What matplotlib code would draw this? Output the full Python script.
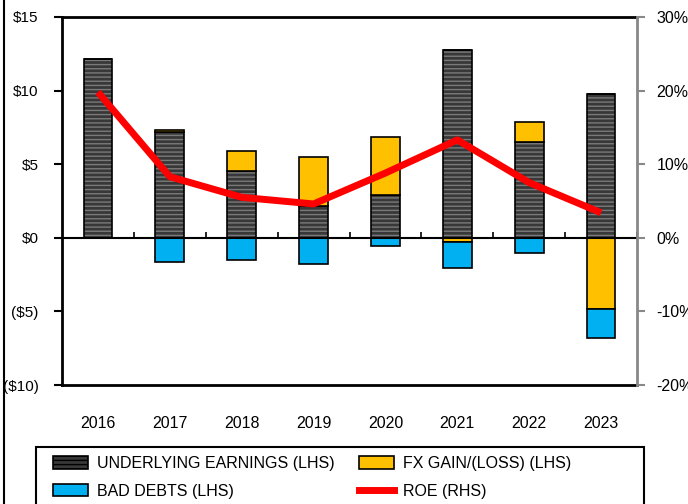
import matplotlib
matplotlib.use("Agg")
import matplotlib.pyplot as plt
from matplotlib.patches import Patch, Rectangle
from matplotlib.lines import Line2D
import numpy as np

years = ["2016", "2017", "2018", "2019", "2020", "2021", "2022", "2023"]
underlying = [12.16, 7.2, 4.57, 2.17, 2.92, 12.77, 6.54, 9.76]
fx_gain = [0.0, 0.1, 1.35, 3.29, 3.92, -0.27, 1.36, -4.84]
bad_debts = [0.0, -1.65, -1.5, -1.79, -0.59, -1.75, -1.04, -1.97]
roe = [19.8, 8.3, 5.5, 4.6, 8.8, 13.3, 7.5, 3.4]

left_ticks = [15, 10, 5, 0, -5, -10]
left_labels = ["$15", "$10", "$5", "$0", "($5)", "($10)"]
right_ticks = [30, 20, 10, 0, -10, -20]
right_labels = ["30%", "20%", "10%", "0%", "-10%", "-20%"]

plt.rcParams['font.family'] = ['Liberation Sans', 'DejaVu Sans']
plt.rcParams['hatch.linewidth'] = 1.0

fig = plt.figure(figsize=(6.88, 5.04), dpi=100)
ax = fig.add_axes([62/688, 1-385/504, (637-62)/688, (385-17)/504])
ax2 = ax.twinx()

x = np.arange(len(years))
w = 0.4
und = np.array(underlying)
fx = np.array(fx_gain)
bd = np.array(bad_debts)

C_UND = '#383838'
C_FX = '#ffc000'
C_BD = '#00b0f0'

# underlying earnings (hatched dark)
ax.bar(x, und, w, color=C_UND, edgecolor='#7a7a7a', hatch='----', linewidth=0, zorder=2)
ax.bar(x, und, w, fill=False, edgecolor='black', linewidth=1.2, zorder=3)

# FX: positive stacks on top of underlying, negative below zero
fx_pos = np.where(fx > 0, fx, 0)
fx_neg = np.where(fx < 0, fx, 0)
ax.bar(x, fx_pos, w, bottom=und, color=C_FX, edgecolor='black', linewidth=1.2, zorder=3)
ax.bar(x, fx_neg, w, bottom=0, color=C_FX, edgecolor='black', linewidth=1.2, zorder=3)
# bad debts below negative fx
ax.bar(x, bd, w, bottom=fx_neg, color=C_BD, edgecolor='black', linewidth=1.2, zorder=3)

ax.set_xlim(-0.5, len(years) - 0.5)
ax.set_ylim(-10, 15)
ax.axhline(0, color='black', lw=1.5, zorder=4)
bounds = np.arange(len(years)) + 0.5
ax.vlines(bounds, 0, 0.4, color='black', lw=1.2, zorder=4)

FS = 11.5
ax.set_xticks(x)
ax.set_xticklabels(years, fontsize=FS)
ax.tick_params(axis='x', length=0, pad=22)
ax.set_yticks(left_ticks)
ax.set_yticklabels(left_labels, fontsize=11)
ax.tick_params(axis='y', direction='out', length=6, width=1.5, color='black', pad=11)

for s in ['left', 'bottom', 'top']:
    ax.spines[s].set_linewidth(2)
    ax.spines[s].set_color('black')
ax.spines['right'].set_visible(False)

ax2.plot(x, roe, color='#ff0000', lw=5, solid_capstyle='butt', zorder=5)
ax2.set_ylim(-20, 30)
ax2.set_yticks(right_ticks)
ax2.set_yticklabels(right_labels, fontsize=FS)
ax2.tick_params(axis='y', direction='out', length=6, width=1.5, color='#888888', pad=8)
ax2.spines['right'].set_color('#888888')
ax2.spines['right'].set_linewidth(2)
for s in ['left', 'bottom', 'top']:
    ax2.spines[s].set_visible(False)

handles = [
    Patch(facecolor=C_UND, edgecolor='black', hatch='----', linewidth=1.2),
    Patch(facecolor=C_BD, edgecolor='black', linewidth=1.2),
    Patch(facecolor=C_FX, edgecolor='black', linewidth=1.2),
    Line2D([0], [0], color='#ff0000', lw=5),
]
labels = ["UNDERLYING EARNINGS (LHS)", "BAD DEBTS (LHS)", "FX GAIN/(LOSS) (LHS)", "ROE (RHS)"]

# legend frame
fig.add_artist(Rectangle((36/688, -0.05), (644-36)/688, 0.05 + (504-447)/504,
                         transform=fig.transFigure, fill=False, edgecolor='black', lw=1.5))
leg = fig.legend(handles, labels, loc='upper left', bbox_to_anchor=(53/688, 1-456/504),
                 ncol=2, fontsize=FS, frameon=False,
                 borderaxespad=0, handlelength=2.2, handleheight=0.8, columnspacing=1.55,
                 labelspacing=0.8, borderpad=0, handletextpad=0.55)

fig.add_artist(Line2D([4/688, 4/688], [0, 1], color='black', lw=1.5, transform=fig.transFigure))

fig.savefig('out.png', dpi=100)
